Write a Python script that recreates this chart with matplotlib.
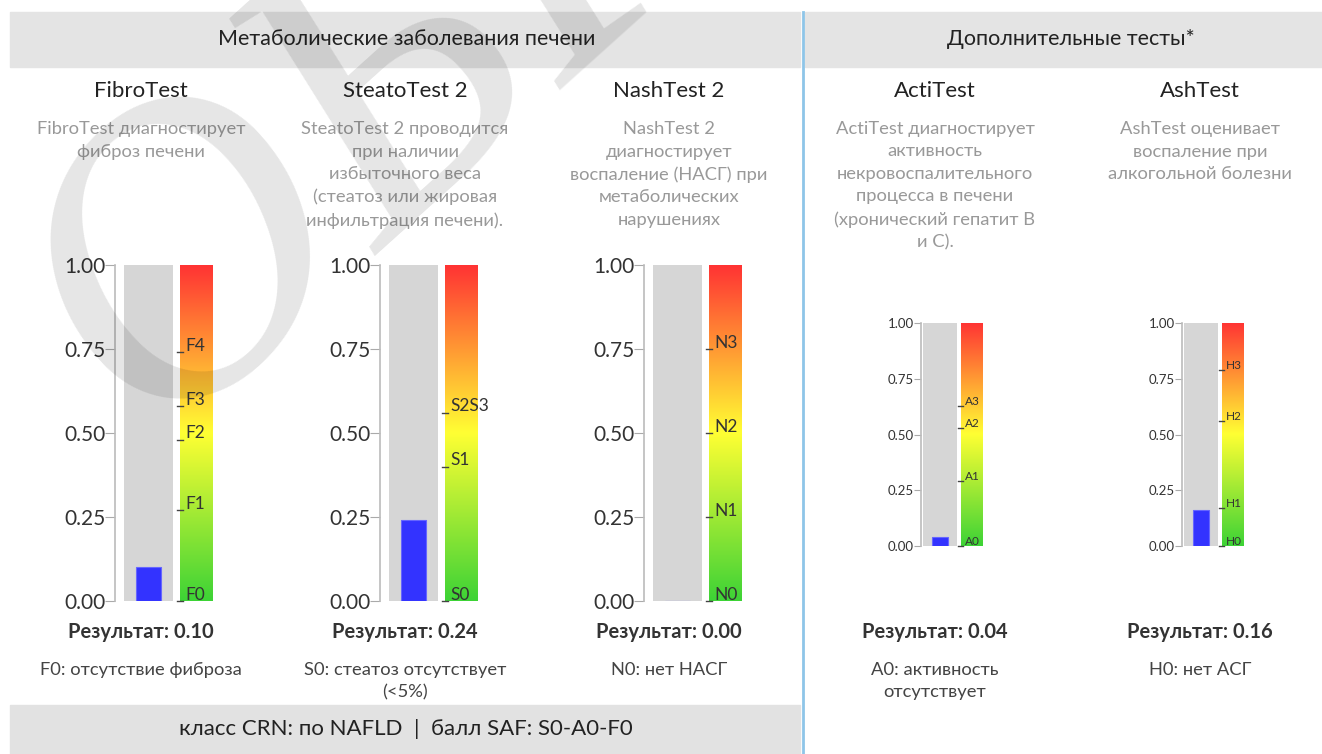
import matplotlib
matplotlib.use('Agg')
import matplotlib.pyplot as plt
import numpy as np
from matplotlib.colors import LinearSegmentedColormap
from matplotlib.patches import Rectangle

plt.rcParams['font.family'] = ['Lato', 'DejaVu Sans']

# --- data ---
tests = ['FibroTest', 'SteatoTest 2', 'NashTest 2', 'ActiTest', 'AshTest']
results = [0.10, 0.24, 0.00, 0.04, 0.16]
descriptions = [
    'FibroTest диагностирует\nфиброз печени',
    'SteatoTest 2 проводится\nпри наличии\nизбыточного веса\n(стеатоз или жировая\nинфильтрация печени).',
    'NashTest 2\nдиагностирует\nвоспаление (НАСГ) при\nметаболических\nнарушениях',
    'ActiTest диагностирует\nактивность\nнекровоспалительного\nпроцесса в печени\n(хронический гепатит B\nи C).',
    'AshTest оценивает\nвоспаление при\nалкогольной болезни',
]
result_notes = [
    'F0: отсутствие фиброза',
    'S0: стеатоз отсутствует\n(<5%)',
    'N0: нет НАСГ',
    'A0: активность\nотсутствует',
    'H0: нет АСГ',
]
grade_labels = [
    ['F0', 'F1', 'F2', 'F3', 'F4'],
    ['S0', 'S1', 'S2S3'],
    ['N0', 'N1', 'N2', 'N3'],
    ['A0', 'A1', 'A2', 'A3'],
    ['H0', 'H1', 'H2', 'H3'],
]
grade_cutoffs = [
    [0.0, 0.27, 0.48, 0.58, 0.74],
    [0.0, 0.40, 0.56],
    [0.0, 0.25, 0.50, 0.75],
    [0.0, 0.29, 0.53, 0.63],
    [0.0, 0.17, 0.56, 0.79],
]
yticks = [0.0, 0.25, 0.50, 0.75, 1.00]
section_titles = ['Метаболические заболевания печени', 'Дополнительные тесты*']
footer = 'класс CRN: по NAFLD  |  балл SAF: S0-A0-F0'

W, H = 1322, 754
fig = plt.figure(figsize=(W / 100, H / 100), dpi=100)


def fx(px):
    return px / W


def fy(py):
    return 1 - py / H


grad_cmap = LinearSegmentedColormap.from_list(
    'grade', [(0, '#3dd336'), (0.5, '#ffff33'), (1, '#ff3333')])

# bands and divider
fig.patches.append(Rectangle((fx(10), fy(67)), fx(790), 55 / H, transform=fig.transFigure,
                             color='#e4e4e4', zorder=0))
fig.patches.append(Rectangle((fx(805), fy(67)), fx(517), 55 / H, transform=fig.transFigure,
                             color='#e4e4e4', zorder=0))
fig.patches.append(Rectangle((fx(10), 0), fx(790), 49 / H, transform=fig.transFigure,
                             color='#e2e2e2', zorder=0))
fig.add_artist(plt.Line2D([fx(803), fx(803)], [fy(12), 0], color='#8ec5e8', lw=2))

fig.text(fx(407), fy(39), section_titles[0], ha='center', va='center', fontsize=15.5, color='#222')
fig.text(fx(1071), fy(39), section_titles[1], ha='center', va='center', fontsize=15.5, color='#222')
fig.text(fx(406), fy(729), footer, ha='center', va='center', fontsize=16, color='#222')

# layout: axis x, top px, bottom px, big/small
layouts = [
    dict(x=115, top=265, bot=601, cx=141, big=True),
    dict(x=380, top=265, bot=601, cx=405, big=True),
    dict(x=644, top=265, bot=601, cx=669, big=True),
    dict(x=921, top=323, bot=546, cx=935, big=False),
    dict(x=1182, top=323, bot=546, cx=1200, big=False),
]

for i, lay in enumerate(layouts):
    if lay['big']:
        span, gray, blue, grad, tick, lab_x, tfs, gfs = 100, (9, 58), (21, 46), (65, 98), (62, 68), 70, 15, 12.5
    else:
        span, gray, blue, grad, tick, lab_x, tfs, gfs = 64, (2, 36), (11, 27), (40, 62), (37, 42), 44, 9.5, 8.5
    ax = fig.add_axes([fx(lay['x']), fy(lay['bot']), span / W, (lay['bot'] - lay['top']) / H])
    ax.set_xlim(0, span)
    ax.set_ylim(0, 1)
    ax.bar((gray[0] + gray[1]) / 2, 1.0, width=gray[1] - gray[0], color='#d6d6d6', zorder=1)
    ax.bar((blue[0] + blue[1]) / 2, results[i], width=blue[1] - blue[0], color='#3333ff',
           edgecolor='#6666ff', linewidth=0.8, zorder=2)
    grad_img = np.linspace(0, 1, 256).reshape(-1, 1)
    ax.imshow(grad_img, cmap=grad_cmap, origin='lower', aspect='auto',
              extent=[grad[0], grad[1], 0, 1], zorder=1)
    for v, lab in zip(grade_cutoffs[i], grade_labels[i]):
        ax.plot([tick[0], tick[1]], [v, v], color='#444', lw=1, zorder=3, clip_on=False)
        ax.text(lab_x, v + 0.004, lab, fontsize=gfs, color='#333', va='baseline', ha='left', zorder=4)
    for s in ['top', 'right', 'bottom']:
        ax.spines[s].set_visible(False)
    ax.spines['left'].set_color('#bbbbbb')
    ax.spines['left'].set_linewidth(1.2)
    ax.set_xticks([])
    ax.set_yticks(yticks)
    ax.set_yticklabels([f'{t:.2f}' for t in yticks])
    ax.tick_params(axis='y', colors='#aaaaaa', labelcolor='#333', labelsize=tfs,
                   length=7 if lay['big'] else 5, pad=0)

    fig.text(fx(lay['cx']), fy(91), tests[i], ha='center', va='center', fontsize=16, color='#222')
    fig.text(fx(lay['cx']), fy(121), descriptions[i], ha='center', va='top', fontsize=13.2,
             color='#999999', linespacing=1.5)
    fig.text(fx(lay['cx']), fy(632), f'Результат: {results[i]:.2f}', ha='center', va='center',
             fontsize=14.5, color='#333', fontweight='bold')
    fig.text(fx(lay['cx']), fy(662), result_notes[i], ha='center', va='top', fontsize=13.2,
             color='#444', linespacing=1.45)

# watermark
fig.text(fx(150), fy(440), 'ОБРАЗЕЦ', family=['Liberation Serif', 'DejaVu Serif'], style='italic',
         fontsize=300, color='black', alpha=0.10, rotation=42, rotation_mode='anchor',
         ha='left', va='baseline', zorder=10)

fig.savefig('out.png', dpi=100)
